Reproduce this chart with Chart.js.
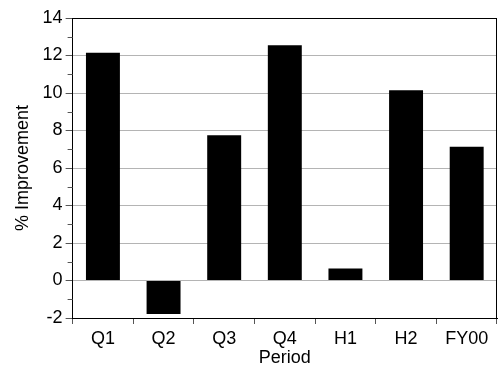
<!DOCTYPE html>
<html><head><meta charset="utf-8">
<script src="https://cdn.jsdelivr.net/npm/chart.js@4/dist/chart.umd.min.js"></script>
<style>html,body{margin:0;padding:0;background:#fff}#w{width:498px;height:367px}</style>
</head><body><div id="w"><canvas id="c"></canvas></div>
<script>
const categories = ["Q1","Q2","Q3","Q4","H1","H2","FY00"];
const improvement = [12.15, -1.79, 7.75, 12.55, 0.64, 10.15, 7.14];
const yMin = -2, yMax = 14, yStep = 2, yMinorStep = 1;

const F = { family: 'Liberation Sans', size: 18 };

const framePlugin = {
  id: 'frame',
  afterDraw(chart) {
    const {ctx, chartArea: a, scales} = chart;
    const y = scales.y;
    ctx.save();
    ctx.strokeStyle = '#555';
    ctx.lineWidth = 1;
    ctx.beginPath();
    for (let v = yMin + yMinorStep; v < yMax; v += yStep) {
      const py = Math.round(y.getPixelForValue(v)) + 0.5;
      ctx.moveTo(a.left - 5, py); ctx.lineTo(a.left, py);
    }
    ctx.stroke();
    ctx.strokeStyle = '#000';
    ctx.beginPath();
    ctx.moveTo(a.left, Math.round(a.top) + 0.5);
    ctx.lineTo(Math.round(a.right) - 0.5, Math.round(a.top) + 0.5);
    ctx.lineTo(Math.round(a.right) - 0.5, a.bottom);
    ctx.stroke();
    ctx.restore();
  }
};

new Chart(document.getElementById('c'), {
  type: 'bar',
  data: { labels: categories, datasets: [{ data: improvement, backgroundColor: '#000', borderWidth: 0, barPercentage: 0.56, categoryPercentage: 1 }] },
  options: {
    responsive: true, maintainAspectRatio: false, animation: false,
    layout: { padding: { top: 18, right: 1, left: 12, bottom: 0 } },
    plugins: { legend: { display: false }, tooltip: { enabled: false } },
    scales: {
      x: {
        afterFit(scale) { scale.height = 49; },
        grid: { display: true, drawOnChartArea: false, offset: true, tickLength: 6, color: '#555' },
        border: { color: '#000' },
        ticks: { color: '#000', font: F, padding: 4 },
        title: { display: true, text: 'Period', color: '#000', font: F, padding: { top: 0, bottom: -2 } }
      },
      y: {
        min: yMin, max: yMax,
        grid: { color: (c) => c.tick && c.tick.value === yMax ? '#000' : (c.tick && c.tick.value === yMin ? 'rgba(0,0,0,0)' : '#b4b4b4'), tickColor: '#555', tickLength: 7 },
        border: { color: '#000' },
        ticks: { stepSize: yStep, color: '#000', font: F, padding: 3 },
        title: { display: true, text: '% Improvement', color: '#000', font: F, padding: { top: 0, bottom: 6 } }
      }
    }
  },
  plugins: [framePlugin]
});
</script></body></html>
